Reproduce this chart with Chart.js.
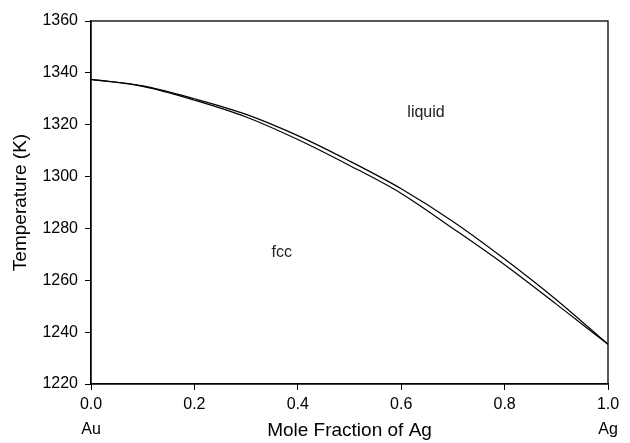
<!DOCTYPE html>
<html>
<head>
<meta charset="utf-8">
<script src="https://cdn.jsdelivr.net/npm/chart.js@4/dist/chart.umd.min.js"></script>
<style>
  html, body { margin: 0; padding: 0; background: #fff; }
  #wrap { width: 630px; height: 443px; position: relative; }
</style>
</head>
<body>
<div id="wrap"><canvas id="c" width="630" height="443"></canvas></div>
<script>
// ---- data ----
const moleFractionAg = [0.0, 0.1, 0.2, 0.3, 0.4, 0.5, 0.6, 0.7, 0.8, 0.9, 1.0];
const liquidusK = [1337.5, 1335.0, 1330.0, 1324.0, 1315.8, 1306.0, 1295.3, 1282.7, 1268.2, 1252.5, 1235.3];
const solidusK  = [1337.5, 1334.8, 1329.5, 1323.0, 1314.3, 1304.3, 1293.5, 1280.0, 1266.0, 1250.8, 1235.3];
const xTicks = [0.0, 0.2, 0.4, 0.6, 0.8, 1.0];
const yTicks = [1220, 1240, 1260, 1280, 1300, 1320, 1340, 1360];
const regionLabels = [
  { text: 'liquid', x: 0.648, y: 1324.5 },
  { text: 'fcc', x: 0.369, y: 1270.5 }
];
const endLabels = [
  { text: 'Au', x: 0.0 },
  { text: 'Ag', x: 1.0 }
];
const xTitle = 'Mole Fraction of Ag';
const yTitle = 'Temperature (K)';

const FONT = "'Liberation Sans', Arial, Helvetica, sans-serif";

const toPts = (xs, ys) => xs.map((x, i) => ({ x: x, y: ys[i] }));

const annotPlugin = {
  id: 'annot',
  afterDraw(chart) {
    const { ctx, chartArea: a, scales: { x, y } } = chart;
    ctx.save();
    // frame
    ctx.strokeStyle = '#000';
    ctx.lineWidth = 1.3;
    ctx.strokeRect(a.left, a.top, a.right - a.left, a.bottom - a.top);
    // region labels
    ctx.fillStyle = '#222';
    ctx.font = '16px ' + FONT;
    ctx.textAlign = 'center';
    ctx.textBaseline = 'middle';
    regionLabels.forEach(l => ctx.fillText(l.text, x.getPixelForValue(l.x), y.getPixelForValue(l.y)));
    // end labels
    ctx.fillStyle = '#000';
    ctx.textBaseline = 'alphabetic';
    endLabels.forEach(l => ctx.fillText(l.text, x.getPixelForValue(l.x), 434));
    // x title
    ctx.font = '19px ' + FONT;
    ctx.fillText(xTitle, (a.left + a.right) / 2, 436);
    ctx.restore();
  }
};

new Chart(document.getElementById('c'), {
  type: 'scatter',
  data: {
    datasets: [
      { label: 'liquidus', data: toPts(moleFractionAg, liquidusK), showLine: true,
        borderColor: '#000', borderWidth: 1.2, pointRadius: 0, cubicInterpolationMode: 'monotone', fill: false },
      { label: 'solidus', data: toPts(moleFractionAg, solidusK), showLine: true,
        borderColor: '#000', borderWidth: 1.2, pointRadius: 0, cubicInterpolationMode: 'monotone', fill: false }
    ]
  },
  options: {
    responsive: false,
    animation: false,
    devicePixelRatio: 1,
    layout: { padding: { left: 0, top: 21, right: 22, bottom: 0 } },
    plugins: { legend: { display: false }, tooltip: { enabled: false } },
    scales: {
      x: {
        type: 'linear', min: 0, max: 1,
        afterBuildTicks: s => { s.ticks = xTicks.map(v => ({ value: v })); },
        afterFit: s => { s.height = 59; },
        ticks: { color: '#000', font: { size: 16, family: FONT }, padding: 5,
                 callback: v => Number(v).toFixed(1), maxRotation: 0 },
        grid: { drawOnChartArea: false, drawTicks: true, tickLength: 6, color: '#000', lineWidth: 1 },
        border: { display: true, color: '#000', width: 1.3 }
      },
      y: {
        type: 'linear', min: 1220, max: 1360,
        afterBuildTicks: s => { s.ticks = yTicks.map(v => ({ value: v })); },
        afterFit: s => { s.width = 91; },
        ticks: { color: '#000', font: { size: 16, family: FONT }, padding: 7,
                 callback: v => String(Math.round(v)) },
        grid: { drawOnChartArea: false, drawTicks: true, tickLength: 6, color: '#000', lineWidth: 1 },
        border: { display: true, color: '#000', width: 1.3 },
        title: { display: true, text: yTitle, color: '#000', font: { size: 19, family: FONT },
                 padding: { top: 9, bottom: 0 } }
      }
    }
  },
  plugins: [annotPlugin]
});
</script>
</body>
</html>
